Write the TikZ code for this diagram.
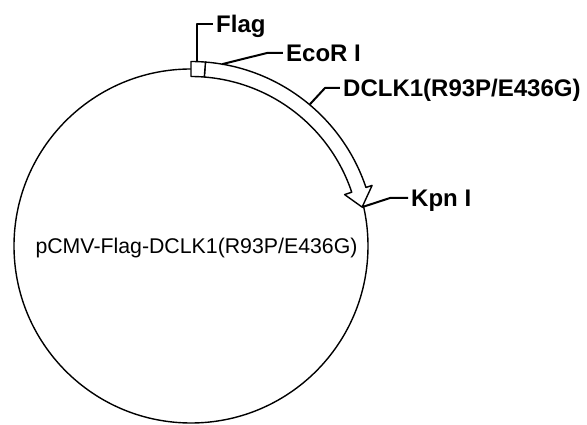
\documentclass[tikz,border=0pt]{standalone}
\usepackage{fontspec}
\setmainfont{Liberation Sans}
\usetikzlibrary{positioning}

\begin{document}
\begin{tikzpicture}[x=1pt, y=1pt, line join=round,
                lbl/.style={anchor=west, inner xsep=3pt, inner ysep=0pt, text height=17pt, text depth=0pt, font=\fontsize{24}{28}\selectfont\bfseries},
                leader/.style={line width=2pt},
                plasmid/.style={line width=1.4pt},
                insert/.style={line width=1.4pt, fill=white}]
                \useasboundingbox (-191,-179) rectangle (396,246);
                \node[draw, circle, plasmid, minimum size=354pt, inner sep=0pt] (vec) at (0,0) {};
                \node[text height=15.2pt, text depth=0pt, inner sep=0pt, font=\fontsize{21.3}{25}\selectfont] (name) at (5.5,0.5) {pCMV-Flag-DCLK1(R93P/E436G)};

                % insert arrow and Flag tag
                \draw[insert] (85.5:169.5) arc[start angle=85.5, end angle=18.5, radius=169.5] -- (18.5:162) -- (12.8:175.5)
                          -- (18.5:191) -- (18.5:184.5) arc[start angle=18.5, end angle=85.5, radius=184.5] -- cycle;
                \draw[insert] (90:169.5) arc[start angle=90, end angle=85.5, radius=169.5] -- (85.5:184.5)
                          arc[start angle=85.5, end angle=90, radius=184.5] -- cycle;

                \coordinate (flagpt) at (88.1:184.5);
                \coordinate (ecorpt) at (80.3:184.5);
                \coordinate (dclkpt) at (50:185);
                \coordinate (kpnpt) at (12.8:175.5);

                \node[lbl] (flag) at (22,222) {Flag};
                \node[lbl] (ecor) at (92,193) {EcoR I};
                \node[lbl] (dclk) at (149,158) {DCLK1(R93P/E436G)};
                \node[lbl] (kpn) at (217,48) {Kpn I};

                \draw[leader] (flagpt) |- (flag.west);
                \draw[leader] (ecorpt) -- (76,193) -- (ecor.west);
                \draw[leader] (dclkpt) -- (134,158) -- (dclk.west);
                \draw[leader] (kpnpt) -- (199,48) -- (kpn.west);
\end{tikzpicture}
\end{document}
